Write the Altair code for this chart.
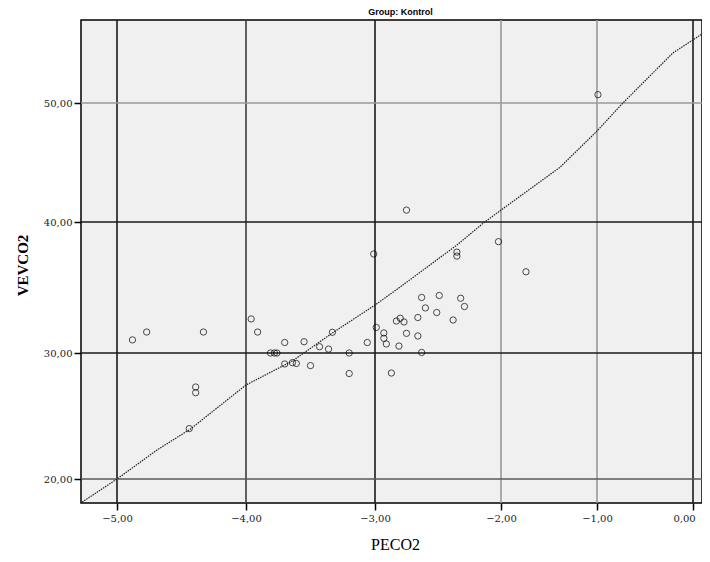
import altair as alt
import pandas as pd

title_text = "Group: Kontrol"
x_title = "PECO2"
y_title = "VEVCO2"

x_ticks = [-5, -4, -3, -2, -1, 0]
y_ticks = [20, 30, 40, 50]
x_grid_colors = ["#1a1a1a", "#3c3c3c", "#1a1a1a", "#9a9a9a", "#9a9a9a", "#1a1a1a"]
y_grid_colors = ["#5a5a5a", "#1a1a1a", "#1a1a1a", "#9a9a9a"]

pts_x = [-4.88, -4.77, -4.33, -4.39, -4.39, -4.44,
         -3.96, -3.91, -3.81, -3.78, -3.76, -3.70, -3.55,
         -3.33, -3.43, -3.36, -3.70, -3.64, -3.61,
         -3.50, -3.20, -3.20, -3.06, -3.01, -2.75,
         -2.99, -2.93, -2.93, -2.91, -2.81, -2.87,
         -2.83, -2.80, -2.77, -2.75, -2.66, -2.63,
         -2.66, -2.63, -2.60, -2.51, -2.49, -2.38,
         -2.32, -2.29, -2.35, -2.35, -2.02, -1.74, -0.99]
pts_y = [31.0, 31.6, 31.6, 27.3, 26.85, 24.0,
         32.6, 31.6, 30.0, 30.0, 30.0, 30.8, 30.86,
         31.58, 30.48, 30.3, 29.13, 29.23, 29.17,
         29.0, 30.0, 28.37, 30.8, 37.56, 41.0,
         31.95, 31.53, 31.12, 30.69, 30.53, 28.41,
         32.44, 32.65, 32.37, 31.5, 31.3, 30.04,
         32.71, 34.24, 33.44, 33.09, 34.39, 32.52,
         34.18, 33.55, 37.7, 37.4, 38.5, 36.2, 50.7]

line_x = [-5.27, -5.0, -4.69, -4.43, -4.0, -3.64, -3.33, -3.0, -2.80, -2.35,
          -2.14, -2.0, -1.385, -1.01, -0.73, -0.21, 0.0, 0.094]
line_y = [18.17, 20.0, 22.3, 23.97, 27.46, 29.37, 31.53, 33.66, 35.04, 38.24,
          39.92, 41.0, 44.6, 47.56, 50.0, 54.2, 55.3, 55.8]

# piecewise scales reproducing the uneven axis spacing of the reference
x_scale = alt.Scale(domain=[-5.279, -5, -4, -3, -2, -1, 0, 0.094],
                    range=[0, 36, 165, 294, 420, 516, 612, 621], nice=False, zero=False)
y_scale = alt.Scale(domain=[18.095, 20, 30, 40, 50, 56.97],
                    range=[483, 459, 333, 202, 83, 0], nice=False, zero=False)

pts = pd.DataFrame({"PECO2": pts_x, "VEVCO2": pts_y})
fit = pd.DataFrame({"PECO2": line_x, "VEVCO2": line_y})
gx = pd.DataFrame({"PECO2": x_ticks, "c": x_grid_colors})
gy = pd.DataFrame({"VEVCO2": y_ticks, "c": y_grid_colors})

label_expr = "replace(format(datum.value, '.2f'), '.', ',')"

x_axis = alt.Axis(values=x_ticks, labelExpr=label_expr, title=x_title, grid=False,
                  domain=False, ticks=True, tickSize=7, tickColor="black", tickWidth=1.5,
                  labelFont="DejaVu Serif", labelFontSize=10, labelColor="#222",
                  labelPadding=3,
                  labelOffset=alt.condition("datum.value == 0", alt.value(-9), alt.value(0)),
                  titleFont="Liberation Serif", titleFontSize=16,
                  titleFontWeight="normal", titleColor="black", titleX=314, titleY=41,
                  titleBaseline="middle", titleAlign="center")
y_axis = alt.Axis(values=y_ticks, labelExpr=label_expr, title=y_title, grid=False,
                  domain=False, ticks=True, tickSize=7, tickColor="black", tickWidth=1.5,
                  labelFont="DejaVu Serif", labelFontSize=10, labelColor="#222",
                  labelPadding=2, titleFont="Liberation Serif", titleFontSize=15,
                  titleFontWeight="bold", titleColor="black", titleX=-59, titleY=245,
                  titleAngle=270, titleBaseline="middle", titleAlign="center")

X = alt.X("PECO2:Q", scale=x_scale, axis=x_axis)
Y = alt.Y("VEVCO2:Q", scale=y_scale, axis=y_axis)

grid_x = alt.Chart(gx).mark_rule(strokeWidth=1.6).encode(
    x=X,
    color=alt.Color("c:N", scale=None),
)
grid_y = alt.Chart(gy).mark_rule(strokeWidth=1.6).encode(
    y=Y,
    color=alt.Color("c:N", scale=None),
)
line = alt.Chart(fit).mark_line(color="#222", strokeWidth=1.2, strokeDash=[1.5, 1],
                                clip=True).encode(
    x=X, y=Y,
)
points = alt.Chart(pts).mark_point(shape="circle", filled=False, color="black",
                                   size=40, strokeWidth=1).encode(
    x=X, y=Y,
)

chart = alt.layer(grid_x, grid_y, line, points).properties(
    width=621,
    height=483,
    autosize=alt.AutoSizeParams(type="none"),
    padding={"left": 73, "top": 12, "right": 0, "bottom": 51},
    background="white",
    title=alt.TitleParams(title_text, font="Liberation Sans", fontSize=9,
                          fontWeight="bold", anchor="middle", offset=2, dx=9,
                          color="black"),
).configure_view(
    fill="#f0f0f0", stroke="black", strokeWidth=1.5
)

chart.save("out.html", embed_options={"renderer": "svg", "actions": False})
